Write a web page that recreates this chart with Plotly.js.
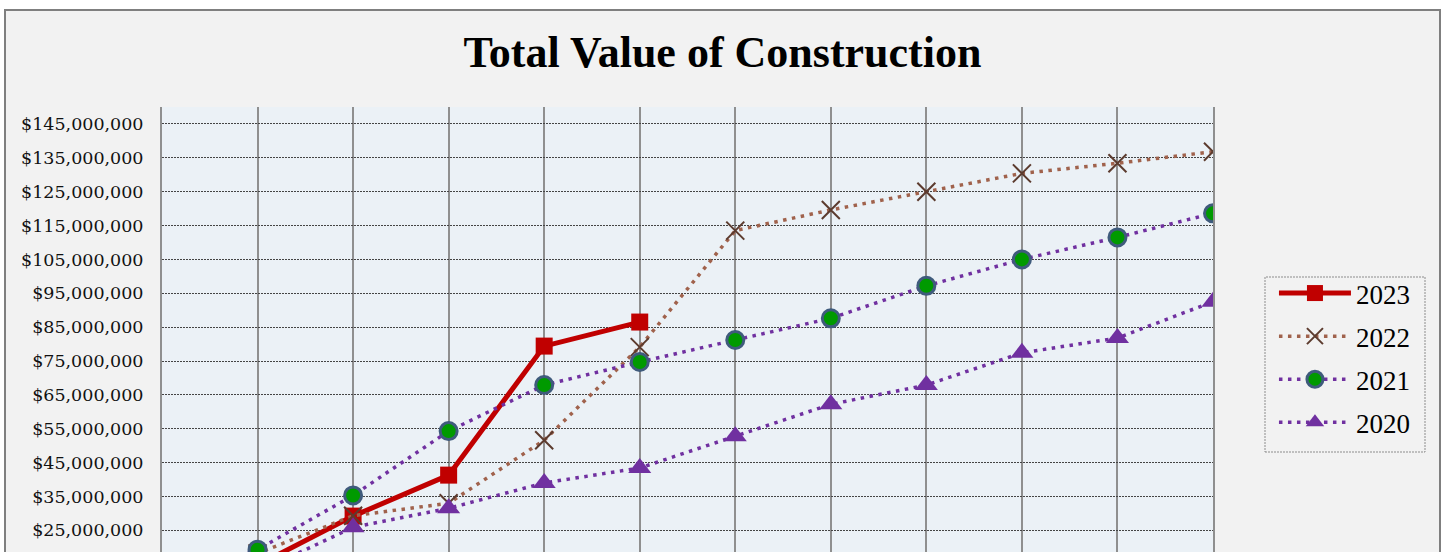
<!DOCTYPE html>
<html>
<head>
<meta charset="utf-8">
<script src="https://cdn.plot.ly/plotly-3.0.1.min.js"></script>
<style>
  html, body { margin: 0; padding: 0; background: #ffffff; overflow: hidden; }
  #frame {
    position: absolute; left: 4px; top: 9px;
    width: 1433px; height: 543px;
    border: 2px solid #7f7f7f; border-bottom: none;
    overflow: hidden; background: #f2f2f2;
  }
  #chart { width: 1433px; height: 541px; }
</style>
</head>
<body>
<div id="frame"><div id="chart"></div></div>
<script>
// monthly cumulative value of construction
const months = ['January', 'February', 'March', 'April', 'May', 'June',
  'July', 'August', 'September', 'October', 'November', 'December'];
const v2023 = [6500000, 14700000, 29200000, 41300000, 79400000, 86500000];
const v2022 = [9000000, 18200000, 29300000, 33000000, 51600000, 79100000,
  113500000, 119600000, 125000000, 130400000, 133400000, 136800000];
const v2021 = [8000000, 19300000, 35300000, 54300000, 67900000, 74700000,
  81200000, 87600000, 97200000, 105000000, 111500000, 118600000];
const v2020 = [5500000, 12600000, 25900000, 31500000, 39000000, 43400000,
  52800000, 62200000, 67900000, 77400000, 81800000, 92500000];

const serif = 'Liberation Serif, Times New Roman, serif';
const purple = '#7030a0';

const traces = [
  {
    x: months.slice(0, v2023.length), y: v2023, name: '2023', legendgroup: 'a',
    mode: 'lines+markers',
    line: { color: '#c00000', width: 5 },
    marker: { symbol: 'square', size: 17, color: '#c00000' }
  },
  {
    x: months, y: v2022, name: '2022', legendgroup: 'b',
    mode: 'lines+markers',
    line: { color: '#a0624c', width: 3.5, dash: '3.5px,5.5px' },
    marker: { symbol: 'x-thin', size: 18, color: '#5c3b2e', line: { color: '#5c3b2e', width: 2 } }
  },
  {
    x: months, y: v2021, name: '2021', legendgroup: 'c',
    mode: 'lines+markers',
    line: { color: purple, width: 3.5, dash: '3.5px,5.5px' },
    marker: { symbol: 'circle', size: 17, color: '#009a00', line: { color: '#3f5b7c', width: 3 } }
  },
  {
    x: months, y: v2020, name: '2020', legendgroup: 'd',
    mode: 'lines+markers',
    line: { color: purple, width: 3.5, dash: '3.5px,5.5px' },
    marker: { symbol: 'triangle-up', size: 20, color: purple }
  }
];

// the chart continues below the window; the plot area runs off the bottom edge
const layout = {
  width: 1433,
  height: 541,
  margin: { l: 156, r: 226, t: 96, b: 0 },
  paper_bgcolor: '#f2f2f2',
  plot_bgcolor: '#ebf1f6',
  font: { family: serif, color: '#000000', size: 20 },
  title: {
    text: '<b>Total Value of Construction</b>',
    font: { family: serif, size: 44, color: '#000000' },
    x: 0.5, xref: 'container', xanchor: 'center',
    y: 1 - 41 / 541, yref: 'container', yanchor: 'middle'
  },
  xaxis: {
    type: 'category',
    range: [0, 11],
    showgrid: true, gridcolor: '#8f8f8f', gridwidth: 2,
    zeroline: false, showline: false, ticks: '',
    showticklabels: false
  },
  yaxis: {
    range: [18600000, 150000000],
    tick0: 5000000, dtick: 10000000,
    tickprefix: '$', tickformat: ',d',
    tickfont: { family: 'DejaVu Serif, serif', size: 17.5, color: '#111111' },
    showgrid: true, gridcolor: '#444444', gridwidth: 1, griddash: '2px,1px',
    zeroline: false,
    showline: true, linecolor: '#8f8f8f', linewidth: 2, mirror: true,
    ticks: '', ticklabelstandoff: 13
  },
  showlegend: true,
  legend: {
    x: 1.058, y: (445 - 162) / 445, xanchor: 'left', yanchor: 'top',
    bgcolor: 'rgba(0,0,0,0)', borderwidth: 0,
    font: { family: serif, size: 27, color: '#000000' },
    traceorder: 'grouped', tracegroupgap: 5, itemwidth: 72
  },
  shapes: [{
    type: 'rect', xref: 'paper', yref: 'paper',
    x0: (1259 - 156) / 1051, x1: (1419 - 156) / 1051,
    y0: (541 - 441) / 445, y1: (541 - 266) / 445,
    line: { color: '#8c8c8c', width: 1, dash: '2px,1px' }
  }]
};

Plotly.newPlot('chart', traces, layout, { displayModeBar: false, staticPlot: true });
</script>
</body>
</html>
